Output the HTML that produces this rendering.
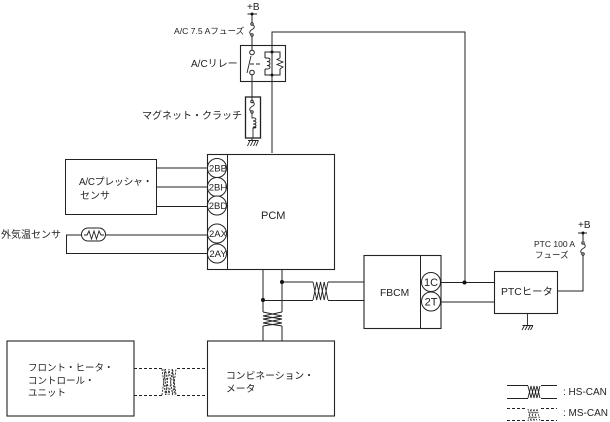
<!DOCTYPE html>
<html><head><meta charset="utf-8"><style>
html,body{margin:0;padding:0;background:#fff}
svg{display:block}
text{font-family:"Liberation Sans","Noto Sans CJK JP",sans-serif;fill:#222;font-size:10px}
.l{fill:none;stroke:#222;stroke-width:1}
.t{fill:none;stroke:#222;stroke-width:.9}
.d{fill:none;stroke:#222;stroke-width:1;stroke-dasharray:3 2}
.c{fill:#fff;stroke:#222;stroke-width:1}
.b{fill:none;stroke:#222;stroke-width:1.1}
</style></head><body>
<svg width="610" height="422" viewBox="0 0 610 422" xmlns="http://www.w3.org/2000/svg">
<!-- top wiring -->
<path class="l" d="M252 14V50M252 75V97M272 153V32H465V282M252 138V141"/>
<path class="l" d="M247.500 14H257"/><circle cx="252" cy="14" r="1.500" fill="#111"/>
<text x="247" y="10" style="font-size:10px">+B</text>
<text x="174" y="34" style="font-size:8.600px">A/C 7.5 Aフューズ</text>
<!-- fuse -->
<rect x="249" y="23" width="7" height="13" fill="#fff"/>
<path class="t" d="M252 24c3 2 3 4 0 5.500c-3 2-3 4 0 5.500"/><circle cx="252" cy="24" r="1.200" class="c"/><circle cx="252" cy="35" r="1.200" class="c"/>
<!-- relay -->
<rect x="240.500" y="45.500" width="45" height="36" class="b"/>
<text x="191" y="67">A/Cリレー</text>
<circle cx="252" cy="52.500" r="2.300" class="c"/><circle cx="252" cy="72.500" r="2.300" class="c"/>
<path class="t" d="M247 73L251 56M250 64H254M256 64H260"/>
<path class="l" d="M272 52H265V58M265 69V75H280V69M280 58V52H272"/>
<path class="t" d="M265 58h2c4 0 4 3.500 0 3.500c4 0 4 4 0 4c4 0 4 3.500 0 3.500h-2"/>
<path class="t" d="M280 58L277 59.500L283 62L277 64.500L283 67L280 69"/>
<circle cx="272" cy="52" r="1.500" fill="#111"/><circle cx="272" cy="75" r="1.500" fill="#111"/>
<!-- clutch -->
<rect x="245.500" y="97" width="15" height="41" fill="#fff" stroke="#222" stroke-width="1.300"/>
<text x="142" y="119">マグネット・クラッチ</text>
<path class="t" d="M252 97V101M252 101c3 2 3 4 0 5.500c-3 2-3 4 0 5.500V118c5-1 5 3 1 3c4 0 4 3 0 3c4 0 4 3 0 3c4 0 4 1 0 1V138"/>
<circle cx="252" cy="101.500" r="1.200" class="c"/><circle cx="252" cy="112" r="1.200" class="c"/>
<path class="t" d="M248 140.500H258.500M250 140.500L247.500 146M253 140.500L250.500 146M256 140.500L253.500 146M258.500 140.500L256 146"/>
<!-- PCM -->
<rect x="207.500" y="154.500" width="127" height="115" class="b"/>
<path class="l" d="M227.500 154.500V269"/>
<text x="261" y="219" style="font-size:11px">PCM</text>
<!-- sensor -->
<rect x="65.500" y="159.500" width="91" height="55" class="l"/>
<text x="79" y="185" style="font-size:9.800px;letter-spacing:-.2px">A/Cプレッシャ・</text>
<text x="80" y="199" style="font-size:10px">センサ</text>
<path class="l" d="M156 168H208M156 187H208M156 206.500H208"/>
<text x="1" y="238" style="font-size:10px">外気温センサ</text>
<path class="l" d="M66.500 235V253.500H208M66 235H81M106 235H208"/>
<rect x="81.500" y="228" width="24" height="13" rx="6.500" class="c"/>
<path class="t" d="M84 235H87L89 231L91.500 239L94 231L96.500 239L99 231L101 235H104"/>
<!-- pins -->
<g>
<circle cx="217" cy="168" r="9.500" class="c"/><circle cx="217" cy="187" r="9.500" class="c"/><circle cx="217" cy="205.500" r="9.500" class="c"/><circle cx="217" cy="233.500" r="9.500" class="c"/><circle cx="217" cy="253.500" r="9.500" class="c"/>
<g text-anchor="middle">
<text x="218" y="171.500" style="font-size:9.500px">2BB</text><text x="218" y="190.500" style="font-size:9.500px">2BH</text><text x="218" y="209" style="font-size:9.500px">2BD</text><text x="218" y="237" style="font-size:9.500px">2AX</text><text x="218" y="257" style="font-size:9.500px">2AY</text>
</g></g>
<!-- CAN between PCM and meter -->
<path class="l" d="M263 269V312M282 269V312M263 326V341M282 326V341"/>
<path class="t" d="M263 312L282 316L263 319L282 323L263 326M282 312L263 316L282 319L263 323L282 326"/>
<path class="l" d="M282 282H313M263.500 300.500H313M328 282H364M328 300.500H364"/>
<path class="t" d="M313 282L316.700 300L320.500 282L324.200 300L328 282M313 300L316.700 282L320.500 300L324.200 282L328 300"/>
<circle cx="282" cy="282" r="2" fill="#111"/><circle cx="263" cy="300" r="2" fill="#111"/>
<!-- FBCM -->
<rect x="364" y="255.500" width="77" height="73" class="b"/>
<path class="l" d="M420.500 255.500V328"/>
<text x="380" y="296" style="font-size:10.300px">FBCM</text>
<path class="l" d="M441 282.500H494M441 302H494"/>
<circle cx="431" cy="282" r="9.500" class="c"/><circle cx="431" cy="301.500" r="9.500" class="c"/>
<text x="431" y="286" text-anchor="middle" style="font-size:11px">1C</text>
<text x="431" y="305.500" text-anchor="middle" style="font-size:11px">2T</text>
<circle cx="464.500" cy="282.500" r="2" fill="#111"/>
<!-- PTC -->
<rect x="494.500" y="271.500" width="63" height="42" class="b"/>
<text x="501" y="295" style="font-size:10.400px">PTCヒータ</text>
<path class="l" d="M557 291H583V233"/>
<path class="l" d="M578 233H587"/><circle cx="583" cy="233" r="1.500" fill="#111"/>
<text x="578" y="228" style="font-size:10px">+B</text>
<text x="534" y="247" style="font-size:8.500px">PTC 100 A</text>
<text x="535" y="258" style="font-size:8.500px">フューズ</text>
<rect x="580" y="241" width="6" height="14" fill="#fff"/>
<path class="t" d="M583 243c3 2 3 4 0 5.500c-3 2-3 4 0 5.500"/><circle cx="583" cy="243" r="1.200" class="c"/><circle cx="583" cy="254" r="1.200" class="c"/>
<path class="t" d="M527.500 313V325M522.500 325.500H533M524.500 325.500L522 330M527.500 325.500L525 330M530.500 325.500L528 330M533 325.500L530.500 330"/>
<!-- bottom -->
<rect x="7" y="341" width="127" height="75" class="b"/>
<rect x="207.500" y="341" width="127" height="75" class="b"/>
<text x="28" y="371" style="font-size:9.500px">フロント・ヒータ・</text>
<text x="28" y="384" style="font-size:9.500px">コントロール・</text>
<text x="28" y="396" style="font-size:9.500px">ユニット</text>
<text x="226" y="379" style="font-size:9.800px">コンビネーション・</text>
<text x="226" y="392" style="font-size:9.800px">メータ</text>
<path class="d" d="M134 368.500H162M177 368.500H207M134 395.500H162M177 395.500H207"/>
<path class="t" stroke-dasharray="2 1.200" d="M162 369L165.500 395L169 369L172.500 395L176 369M162 395L165.500 369L169 395L172.500 369L176 395M164 369L167 395M172 369L175 395"/>
<!-- legend -->
<path class="l" d="M507 385.500H528M541 385.500H557M507 398.500H528M541 398.500H557"/>
<path class="t" d="M528 386L531 398L534 386L537 398L540 386M528 398L531 386L534 398L537 386L540 398"/>
<text x="563" y="395" style="font-size:10px">: HS-CAN</text>
<path class="d" d="M507 408.500H527M541 408.500H557M507 420.500H527M541 420.500H557"/>
<path class="t" stroke-dasharray="1.500 1" d="M528 421L531 409L534 421L537 409L540 421M528 409L531 421L534 409L537 421"/>
<text x="563" y="416" style="font-size:10px">: MS-CAN</text>
</svg>
</body></html>
